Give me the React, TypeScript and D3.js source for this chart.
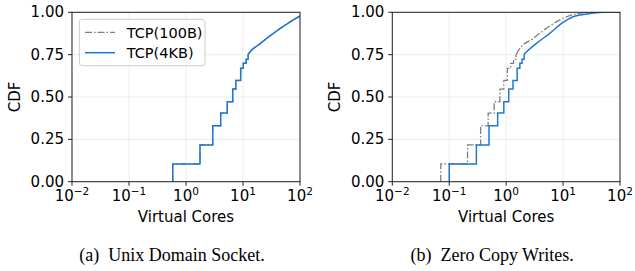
import React from 'react'
import * as d3 from 'd3'

// CDF levels reached at each step (shared by all series)
const levels = [0.105, 0.217, 0.33, 0.405, 0.472, 0.547, 0.598, 0.669, 0.699, 0.723, 0.752]

// (a) Unix Domain Socket: both series coincide
const udsJumps = [0.585, 1.76, 2.94, 4.06, 5.3, 6.6, 7.5, 9.1, 10.1, 11.3, 12.3]
const udsTailX = [12.3, 14.2, 20, 26, 35, 45, 60, 76, 100]
const udsTailY = [0.752, 0.777, 0.815, 0.846, 0.878, 0.905, 0.933, 0.955, 0.978]

// (b) Zero Copy Writes
const zcSmallJumps = [0.071, 0.21, 0.356, 0.483, 0.617, 0.776, 0.91, 1.05, 1.2, 1.35, 1.5]
const zcSmallTailX = [1.5, 1.74, 2.98, 5.1, 8.75, 13.1, 19.5, 34, 100]
const zcSmallTailY = [0.752, 0.787, 0.846, 0.905, 0.955, 0.98, 0.994, 1.0, 1.0]

const zcLargeJumps = [0.1, 0.3, 0.5, 0.71, 0.91, 1.11, 1.32, 1.56, 1.74, 1.9, 2.07]
const zcLargeTailX = [2.07, 2.28, 3.41, 5.85, 10, 15, 26, 50, 100]
const zcLargeTailY = [0.752, 0.767, 0.817, 0.876, 0.941, 0.974, 0.99, 1.0, 1.0]

const seriesNames = ['TCP(100B)', 'TCP(4KB)']
const xTicks = [0.01, 0.1, 1, 10, 100]
const xExponents = ['\u22122', '\u22121', '0', '1', '2']
const yTicks = [0, 0.25, 0.5, 0.75, 1]

const gray = '#7f7f7f'
const blue = '#1f77d4'
const sans = '"DejaVu Sans", sans-serif'

const top = 12.3, bottom = 181.7

const Panel = ({ id, x0, x1, series, legend, caption }) => {
    const x = d3.scaleLog().domain([0.01, 100]).range([x0, x1])
    const y = d3.scaleLinear().domain([0, 1]).range([bottom, top])

    const stepLine = d3.line().x(d => x(d[0])).y(d => y(d[1])).curve(d3.curveStepAfter)
    const tailLine = d3.line().x(d => x(d[0])).y(d => y(d[1])).curve(d3.curveMonotoneX)

    const cx = (x0 + x1) / 2

    return (
        <g>
            <clipPath id={'clip-' + id}>
                <rect x={x0} y={top} width={x1 - x0} height={bottom - top} />
            </clipPath>
            {xTicks.map(t => (
                <line key={'gx' + t} x1={x(t)} x2={x(t)} y1={top} y2={bottom} stroke="#e8e8e8" strokeWidth={0.8} />
            ))}
            {yTicks.map(t => (
                <line key={'gy' + t} x1={x0} x2={x1} y1={y(t)} y2={y(t)} stroke="#e8e8e8" strokeWidth={0.8} />
            ))}
            <g clipPath={`url(#clip-${id})`}>
                {series.map((s, i) => {
                    const steps = [[s.jumps[0], 0], ...s.jumps.map((j, k) => [j, levels[k]])]
                    const tail = s.tailX.map((v, k) => [v, s.tailY[k]])
                    const dash = i === 0 ? '7,2,1.5,2' : null
                    const color = i === 0 ? gray : blue
                    return (
                        <g key={i} fill="none" stroke={color} strokeWidth={i === 0 ? 1.3 : 1.5} strokeDasharray={dash}>
                            <path d={stepLine(steps)} />
                            <path d={tailLine(tail)} />
                        </g>
                    )
                })}
            </g>
            <rect x={x0} y={top} width={x1 - x0} height={bottom - top} fill="none" stroke="#222" strokeWidth={1} />
            {yTicks.map(t => (
                <g key={'ty' + t}>
                    <line x1={x0 - 4} x2={x0} y1={y(t)} y2={y(t)} stroke="#222" />
                    <text x={x0 - 8} y={y(t) + 5} textAnchor="end" fontSize={15} fontFamily={sans}>{d3.format('.2f')(t)}</text>
                </g>
            ))}
            {xTicks.map((t, i) => (
                <g key={'tx' + t}>
                    <line x1={x(t)} x2={x(t)} y1={bottom} y2={bottom + 4} stroke="#222" />
                    <text x={x(t)} y={201} textAnchor="middle" fontSize={15} fontFamily={sans}>
                        <tspan>10</tspan>
                        <tspan dy={-6} fontSize={10.5}>{xExponents[i]}</tspan>
                    </text>
                </g>
            ))}
            <text x={cx} y={221.5} textAnchor="middle" fontSize={15} fontFamily={sans}>Virtual Cores</text>
            <text transform={`translate(${x0 - 52},${(top + bottom) / 2}) rotate(-90)`} textAnchor="middle" fontSize={15} fontFamily={sans}>CDF</text>
            {legend && (
                <g>
                    <rect x={x0 + 7.3} y={19.3} width={125.7} height={46.4} rx={3} fill="#fff" fillOpacity={0.8} stroke="#cccccc" />
                    {seriesNames.map((n, i) => (
                        <g key={n}>
                            <line x1={x0 + 13} x2={x0 + 43} y1={32.3 + i * 20.4} y2={32.3 + i * 20.4}
                                stroke={i === 0 ? gray : blue} strokeWidth={i === 0 ? 1.3 : 1.5}
                                strokeDasharray={i === 0 ? '7,2,1.5,2' : null} />
                            <text x={x0 + 54.7} y={37.5 + i * 20.4} fontSize={14.5} fontFamily={sans}>{n}</text>
                        </g>
                    ))}
                </g>
            )}
            <text x={cx - 14} y={261} textAnchor="middle" fontSize={18} fontFamily='"Liberation Serif", serif'>{caption}</text>
        </g>
    )
}

export default function App() {
    const udsSeries = [
        { jumps: udsJumps, tailX: udsTailX, tailY: udsTailY },
        { jumps: udsJumps, tailX: udsTailX, tailY: udsTailY },
    ]
    const zcSeries = [
        { jumps: zcSmallJumps, tailX: zcSmallTailX, tailY: zcSmallTailY },
        { jumps: zcLargeJumps, tailX: zcLargeTailX, tailY: zcLargeTailY },
    ]
    return (
        <div style={{ position: 'absolute', left: 0, top: 0 }}>
            <svg width={635} height={271} style={{ display: 'block', background: '#fff' }}>
                <Panel id="a" x0={72} x1={300} series={udsSeries} legend={true} caption={'(a)\u2002Unix Domain Socket.'} />
                <Panel id="b" x0={392.3} x1={620} series={zcSeries} legend={false} caption={'(b)\u2002Zero Copy Writes.'} />
            </svg>
        </div>
    )
}
